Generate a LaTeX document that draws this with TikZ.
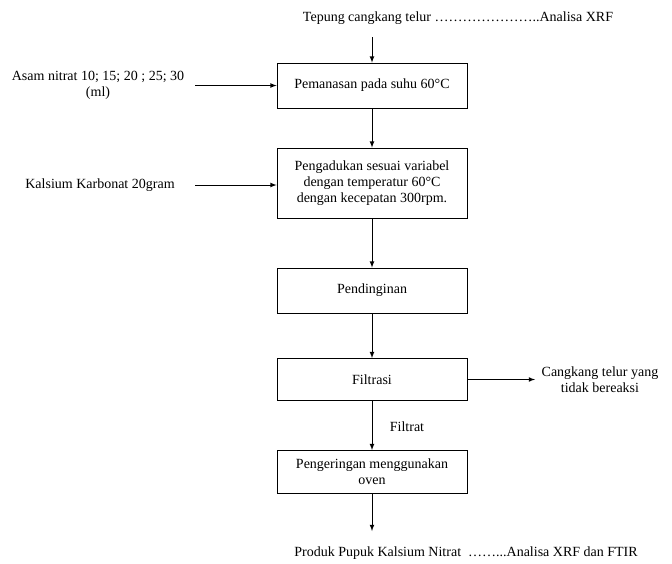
\documentclass[tikz,border=0pt]{standalone}
\usepackage{fontspec}
\setmainfont{Liberation Serif}
\usepackage{tikz}
\usetikzlibrary{arrows}

\begin{document}
\begin{tikzpicture}[x=0.75pt, y=-0.75pt, font=\fontsize{10.5}{12}\selectfont,
  proc/.style={draw, line width=0.6pt, minimum width=142.5pt, align=center, inner sep=2pt},
  txt/.style={align=center, inner sep=1pt},
  flow/.style={-latex, line width=0.6pt}]
\useasboundingbox (0,0) rectangle (672,564);
\node[txt] (tepung) at (458,18) {Tepung cangkang telur …………………..Analisa XRF};
\node[proc, minimum height=33.75pt] (panas) at (372,85.5) {Pemanasan pada suhu 60°C};
\node[proc, minimum height=52.5pt] (aduk) at (372,183) {Pengadukan sesuai variabel\\dengan temperatur 60°C\\dengan kecepatan 300rpm.};
\node[proc, minimum height=33.75pt] (dingin) at (372,290.5) {Pendinginan};
\node[proc, minimum height=31.5pt] (filtrasi) at (372,379.5) {Filtrasi};
\node[proc, minimum height=32.25pt] (oven) at (372,472) {Pengeringan menggunakan\\oven};
\node[txt] (asam) at (98,85.5) {Asam nitrat 10; 15; 20 ; 25; 30\\(ml)};
\node[txt] (kalsium) at (100,185) {Kalsium Karbonat 20gram};
\node[txt] (sisa) at (600,380) {Cangkang telur yang\\tidak bereaksi};
\node[txt] (filtrat) at (407,427) {Filtrat};
\node[txt] (produk) at (466,553) {Produk Pupuk Kalsium Nitrat \ ……...Analisa XRF dan FTIR};
\coordinate (c1) at (372,37);
\coordinate (c2) at (195,85.5);
\coordinate (c3) at (195,185);
\coordinate (c4) at (535,379.5);
\coordinate (c5) at (372,531);
\draw[flow] (c1) -- (panas);
\draw[flow] (c2) -- (panas);
\draw[flow] (panas) -- (aduk);
\draw[flow] (c3) -- (aduk.west |- c3);
\draw[flow] (aduk) -- (dingin);
\draw[flow] (dingin) -- (filtrasi);
\draw[flow] (filtrasi) -- (c4);
\draw[flow] (filtrasi) -- (oven);
\draw[flow] (oven) -- (c5);
\end{tikzpicture}
\end{document}
